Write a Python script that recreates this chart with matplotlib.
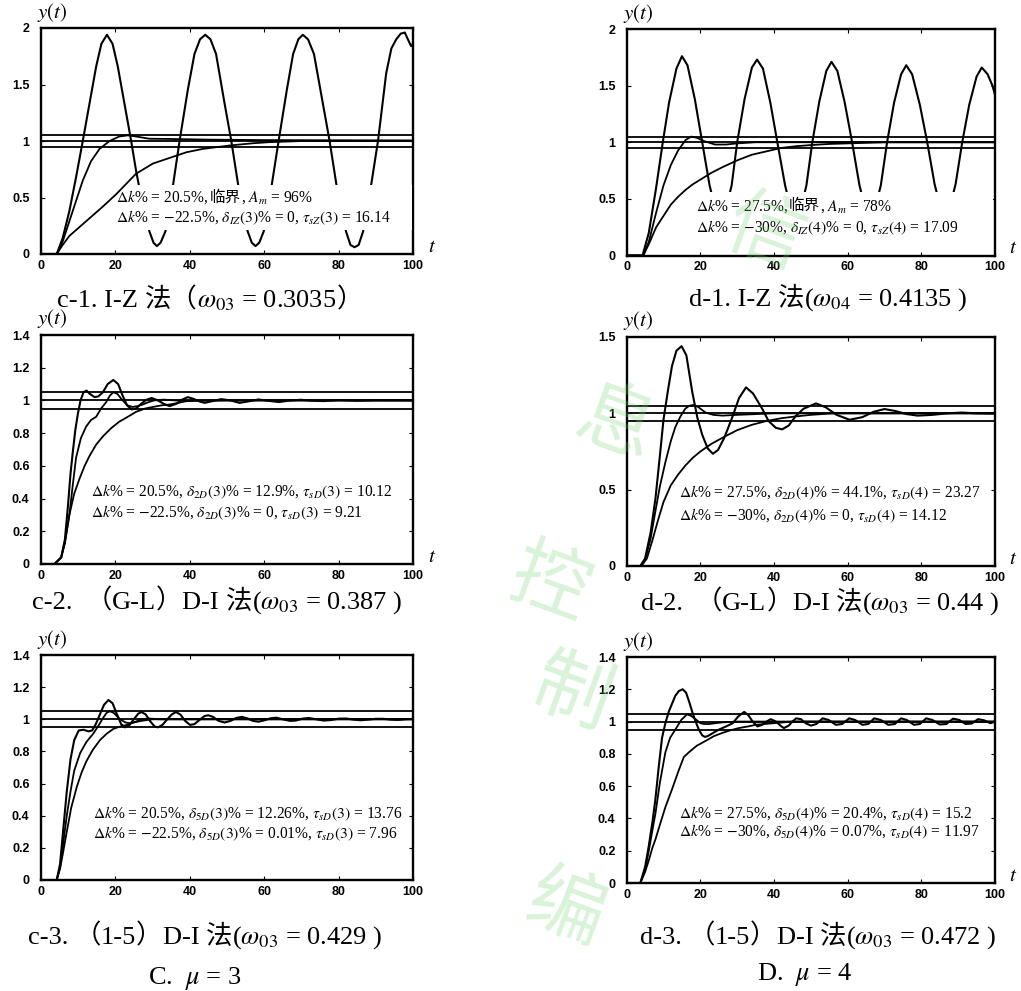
import re
import matplotlib
matplotlib.use('Agg')
import matplotlib.pyplot as plt
from matplotlib.patches import Rectangle
from matplotlib.offsetbox import TextArea, HPacker, AnnotationBbox

plt.rcParams['font.family'] = ['Liberation Serif', 'Noto Sans CJK SC']
plt.rcParams['mathtext.fontset'] = 'stix'

# ---------------- data ----------------
X_TICKS = [0, 20, 40, 60, 80, 100]
Y_TICKS_2 = [0, 0.5, 1, 1.5, 2]
Y_TICKS_14 = [0, 0.2, 0.4, 0.6, 0.8, 1.0, 1.2, 1.4]
Y_TICKS_15 = [0, 0.5, 1, 1.5]
BAND = [0.95, 1.0, 1.05]

# c-1  I-Z
C1_T_A = [0, 4.3, 5.9, 7.7, 9.5, 11.3, 13.1, 14.9, 16.3, 17.8, 19.3, 20.7, 22.5, 24.3, 25.6, 27, 29.2, 30.3, 31.2, 32.2,
          33.5, 35.5, 37.3, 39.5, 41.3, 42.8, 44.2, 45.6, 47.1, 49.4, 51.2, 53, 55.6, 56.7, 57.7, 58.7, 59.9, 62.1,
          63.9, 66.1, 67.8, 69.2, 70.4, 71.8, 73.4, 75.8, 77.6, 79.4, 82.0, 83.2, 84.3, 85.4, 86.6, 88.8, 90.6, 92.8,
          94.2, 95.5, 96.7, 97.8, 98.9, 99.5, 100]
C1_Y_A = [0, 0, 0.14, 0.38, 0.68, 1.0, 1.33, 1.66, 1.86, 1.94, 1.86, 1.66, 1.33, 1.0, 0.74, 0.5, 0.2, 0.1, 0.07, 0.1,
          0.2, 0.6, 1.0, 1.45, 1.77, 1.9, 1.94, 1.9, 1.77, 1.33, 1.0, 0.62, 0.2, 0.1, 0.07, 0.1, 0.2, 0.62,
          1.0, 1.45, 1.77, 1.9, 1.94, 1.9, 1.77, 1.33, 1.0, 0.62, 0.2, 0.08, 0.06, 0.08, 0.2, 0.62, 1.0, 1.6,
          1.82, 1.9, 1.95, 1.96, 1.88, 1.84, 1.86]
C1_T_B = [0, 4.3, 5.9, 7.7, 9.5, 11.3, 13.5, 15.8, 18.5, 21.1, 23.4, 25.6, 29.2, 34.6, 45, 60, 100]
C1_Y_B = [0, 0, 0.11, 0.29, 0.47, 0.65, 0.82, 0.93, 1.0, 1.04, 1.05, 1.04, 1.02, 1.018, 1.012, 1.008, 1.005]
C1_T_C = [0, 4.3, 5.9, 7.7, 12.2, 16.7, 20.3, 25.6, 30.1, 34.6, 39.1, 43.5, 50.7, 57, 61.5, 70.4, 100]
C1_Y_C = [0, 0, 0.08, 0.16, 0.29, 0.42, 0.53, 0.71, 0.8, 0.85, 0.9, 0.93, 0.96, 0.98, 0.99, 1.0, 1.0]

# d-1  I-Z
D1_T_A = [0, 4.3, 6, 8, 9.8, 11.5, 13.5, 15, 16.5, 18.5, 20.5, 22.5, 24.5, 25.5, 26.5, 28.5, 30, 32, 34, 35.4, 37,
          39, 40.9, 43, 45, 45.8, 46.8, 48.8, 50.4, 52.3, 54.2, 55.6, 57.2, 59.2, 61.2, 63.2, 65.2, 66, 67, 69,
          70.7, 72.6, 74.5, 75.9, 77.5, 79.6, 81.6, 83.6, 85.6, 86.4, 87.3, 89.3, 91.1, 93, 95, 96.4, 98, 99.3, 100]
D1_Y_A = [0, 0, 0.2, 0.6, 1.0, 1.35, 1.65, 1.76, 1.68, 1.38, 1.0, 0.62, 0.35, 0.3, 0.35, 0.62, 1.0, 1.38, 1.66, 1.73,
          1.65, 1.35, 1.0, 0.62, 0.35, 0.3, 0.35, 0.62, 1.0, 1.36, 1.63, 1.71, 1.63, 1.35, 1.0, 0.62, 0.36, 0.32,
          0.36, 0.62, 1.0, 1.35, 1.6, 1.68, 1.6, 1.33, 1.0, 0.63, 0.37, 0.33, 0.37, 0.63, 1.0, 1.33, 1.58, 1.66,
          1.6, 1.5, 1.42]
D1_T_B = [0, 4.5, 6, 8, 10, 12, 14, 16, 17.5, 19, 21, 24, 27, 30, 35, 100]
D1_Y_B = [0, 0, 0.12, 0.38, 0.62, 0.8, 0.93, 1.02, 1.05, 1.04, 1.01, 0.98, 0.98, 0.99, 1.0, 1.0]
D1_T_C = [0, 4.5, 6, 8, 10, 12, 14, 16, 18, 20, 23, 26, 30, 34, 38, 42, 46, 50, 55, 60, 70, 100]
D1_Y_C = [0, 0, 0.1, 0.25, 0.35, 0.45, 0.52, 0.58, 0.63, 0.67, 0.73, 0.78, 0.84, 0.89, 0.92, 0.95, 0.965, 0.975,
          0.985, 0.99, 1.0, 1.0]

# c-2  (G-L) D-I
C2_T_A = [0, 3.7, 5.5, 6.5, 7.3, 8.0, 8.6, 9.3, 10, 10.7, 11.5, 12.3, 13.2, 14.5, 15.5, 16.7, 18, 19.5, 20.8, 22,
          23.2, 24.4, 25.6, 27, 28.5, 29.8, 31.5, 33, 34.6, 36.5, 38, 39.5, 41, 42.5, 44, 46, 48.5, 51, 53.4, 56,
          58.5, 61, 64, 67, 70, 73, 76, 80, 85, 90, 100]
C2_Y_A = [0, 0, 0.04, 0.15, 0.35, 0.55, 0.68, 0.82, 0.92, 1.0, 1.05, 1.06, 1.04, 1.02, 1.025, 1.05, 1.1, 1.125, 1.1,
          1.03, 0.97, 0.945, 0.95, 0.98, 1.005, 1.015, 1.0, 0.98, 0.965, 0.98, 1.005, 1.02, 1.01, 0.995, 0.985,
          0.995, 1.008, 1.0, 0.985, 0.995, 1.006, 0.998, 0.99, 1.0, 1.004, 0.998, 0.996, 1.002, 0.998, 1.001, 1.0]
C2_T_B = [0, 3.7, 5.5, 6.5, 7.7, 8.6, 9.5, 10.8, 12.2, 13.5, 14.9, 16.2, 17.6, 18.6, 19.5, 20.6, 22, 23.3, 24.7,
          26, 27.4, 29, 30.5, 33, 36, 40, 50, 100]
C2_Y_B = [0, 0, 0.04, 0.13, 0.3, 0.48, 0.65, 0.77, 0.84, 0.88, 0.9, 0.95, 0.99, 1.03, 1.05, 1.04, 1.0, 0.97, 0.96,
          0.965, 0.975, 0.99, 1.0, 1.005, 1.0, 0.997, 1.0, 1.0]
C2_T_C = [0, 3.7, 5.5, 6.5, 7.7, 9, 10.4, 11.8, 13.1, 14.9, 16.7, 18.9, 21.1, 23.4, 25.6, 28, 30.1, 32.5, 34.6, 37,
          39, 42, 100]
C2_Y_C = [0, 0, 0.04, 0.13, 0.3, 0.43, 0.52, 0.6, 0.66, 0.73, 0.78, 0.83, 0.87, 0.9, 0.93, 0.95, 0.96, 0.97, 0.975,
          0.985, 0.995, 1.0, 1.0]

# d-2  (G-L) D-I
D2_T_A = [0, 3.7, 5, 6.5, 7.8, 9, 10, 11.2, 12.3, 13.5, 14.9, 16.2, 17.8, 19.2, 20.5, 22, 23.4, 24.8, 26.5, 28.6,
          30.5, 32.4, 34.3, 36.8, 38.5, 40.5, 42.2, 44, 45.8, 48, 51.4, 54, 57, 60.5, 64, 67, 70, 73, 76, 79, 83, 87,
          91, 95, 100]
D2_Y_A = [0, 0, 0.05, 0.22, 0.44, 0.72, 0.96, 1.15, 1.31, 1.41, 1.44, 1.38, 1.14, 0.97, 0.86, 0.77, 0.735, 0.76,
          0.84, 0.97, 1.1, 1.17, 1.13, 1.03, 0.95, 0.905, 0.895, 0.92, 0.98, 1.03, 1.065, 1.04, 0.99, 0.958, 0.975,
          1.01, 1.028, 1.015, 0.995, 0.985, 0.99, 1.0, 1.005, 1.0, 0.998]
D2_T_B = [0, 3.7, 5, 6.5, 7.8, 9, 10.5, 12, 13.2, 14.6, 15.9, 17, 18.2, 19.5, 21.4, 23.5, 26, 30, 35, 40, 100]
D2_Y_B = [0, 0, 0.04, 0.18, 0.36, 0.52, 0.68, 0.82, 0.91, 0.98, 1.03, 1.05, 1.055, 1.04, 1.005, 0.99, 0.985, 0.99,
          0.995, 1.0, 1.0]
D2_T_C = [0, 4, 5.5, 7, 8.5, 10, 12, 14, 16, 18, 20, 23, 26, 30, 34, 38, 42, 46, 50, 56, 100]
D2_Y_C = [0, 0, 0.05, 0.17, 0.3, 0.42, 0.53, 0.6, 0.66, 0.71, 0.75, 0.8, 0.84, 0.89, 0.925, 0.95, 0.968, 0.98, 0.99,
          1.0, 1.0]

# c-3  (1-5) D-I
C3_T_A = [0, 4.3, 5.2, 6, 7, 8, 9, 10.2, 11.5, 12.8, 13.8, 14.8, 15.9, 17, 18.2, 19.3, 20.5, 21.6, 22.6, 23.7, 25,
          26.2, 27.1, 28.2, 29.5, 30.6, 31.5, 32.7, 34, 35.2, 36.3, 37.5, 38.8, 40.1, 41.3, 42.6, 44, 45, 46.3, 47.8,
          49.4, 51, 52.5, 54, 55.6, 57, 58.5, 60, 61.7, 63.3, 65, 67, 68.5, 70.3, 72, 74, 76, 78, 80, 82, 84, 86, 88,
          90, 92, 94, 96, 98, 100]
C3_Y_A = [0, 0, 0.1, 0.3, 0.55, 0.75, 0.87, 0.93, 0.935, 0.925, 0.93, 0.97, 1.03, 1.09, 1.12, 1.1, 1.03, 0.97, 0.95,
          0.96, 1.0, 1.035, 1.045, 1.03, 0.985, 0.955, 0.95, 0.965, 1.0, 1.03, 1.045, 1.03, 0.99, 0.965, 0.97, 0.995,
          1.02, 1.025, 1.015, 0.99, 0.98, 0.99, 1.008, 1.015, 1.005, 0.99, 0.985, 0.993, 1.006, 1.01, 1.0, 0.99,
          0.992, 1.004, 1.008, 1.0, 0.992, 0.995, 1.004, 1.005, 0.998, 0.994, 0.998, 1.003, 1.003, 0.998, 0.996,
          1.0, 1.002]
C3_T_B = [0, 4.3, 5.2, 6, 7, 8, 9, 10.6, 12.3, 14.1, 15.5, 16.8, 17.7, 18.6, 19.6, 21.3, 22.8, 24, 25.5, 27, 29, 32,
          40, 100]
C3_Y_B = [0, 0, 0.08, 0.22, 0.4, 0.55, 0.68, 0.79, 0.86, 0.91, 0.96, 1.01, 1.04, 1.05, 1.04, 1.0, 0.98, 0.975,
          0.985, 1.0, 1.005, 1.0, 1.0, 1.0]
C3_T_C = [0, 4.3, 5.2, 6, 7, 8.2, 9.7, 11, 12.3, 14, 15.9, 17.7, 19.5, 21.3, 23.1, 25, 27, 30, 100]
C3_Y_C = [0, 0, 0.07, 0.17, 0.3, 0.45, 0.58, 0.67, 0.74, 0.81, 0.87, 0.91, 0.94, 0.955, 0.965, 0.98, 0.99, 1.0, 1.0]

# d-3  (1-5) D-I
D3_T_A = [0, 3.7, 5, 6, 7, 7.8, 8.7, 9.6, 10.5, 11.4, 12.3, 13.2, 14.2, 15.2, 16.1, 17, 17.8, 18.7, 19.6, 20.5,
          21.2, 22, 23.5, 25, 27, 28.8, 30.2, 31.9, 33, 34.2, 35.5, 36.8, 38, 39.1, 40.5, 42, 42.7, 44, 45, 46, 47.3,
          48.6, 50, 51.5, 53.2, 54.8, 56.8, 58.5, 60.4, 62, 64, 65.6, 67.2, 69, 71, 72.8, 74.5, 76, 78, 79.6, 81.3,
          83, 85, 86.8, 88.6, 90.3, 92, 93.7, 95.4, 97, 98.8, 100]
D3_Y_A = [0, 0, 0.1, 0.23, 0.38, 0.52, 0.72, 0.9, 0.99, 1.06, 1.11, 1.16, 1.19, 1.2, 1.18, 1.12, 1.06, 1.0, 0.95,
          0.915, 0.905, 0.91, 0.93, 0.95, 0.97, 0.99, 1.03, 1.06, 1.04, 1.0, 0.97, 0.98, 1.0, 1.015, 1.0, 0.97, 0.96,
          0.975, 1.0, 1.02, 1.015, 0.99, 0.975, 0.985, 1.02, 1.01, 0.98, 0.985, 1.02, 1.01, 0.98, 0.985, 1.02, 1.01,
          0.98, 0.985, 1.02, 1.01, 0.98, 0.985, 1.02, 1.01, 0.982, 0.985, 1.018, 1.01, 0.985, 0.988, 1.015, 1.008,
          0.99, 1.0]
D3_T_B = [0, 3.7, 5, 6, 7, 7.8, 9, 10.5, 11.8, 13.2, 14.8, 16.4, 17.5, 18.7, 20, 21, 22.5, 24, 26, 30, 100]
D3_Y_B = [0, 0, 0.08, 0.2, 0.33, 0.43, 0.62, 0.81, 0.9, 0.95, 1.01, 1.045, 1.035, 1.015, 0.99, 0.985, 0.985, 0.99,
          0.995, 1.0, 1.0]
D3_T_C = [0, 3.7, 5, 6, 7, 7.8, 9, 10.5, 12.3, 14, 15.5, 16.9, 19, 21.4, 23.7, 26, 28, 30.5, 33, 35, 40, 45, 100]
D3_Y_C = [0, 0, 0.07, 0.14, 0.22, 0.27, 0.36, 0.47, 0.58, 0.69, 0.78, 0.81, 0.85, 0.88, 0.91, 0.93, 0.945, 0.96,
          0.97, 0.98, 0.99, 1.0, 1.0]

NOTE_C1 = [r"$\Delta k$% = 20.5%, 临界, $A_m$ = 96%",
           r"$\Delta k$% = $-$22.5%, $\delta_{IZ}(3)$% = 0, $\tau_{sZ}(3)$ = 16.14"]
NOTE_D1 = [r"$\Delta k$% = 27.5%, 临界, $A_m$ = 78%",
           r"$\Delta k$% = $-$30%, $\delta_{IZ}(4)$% = 0, $\tau_{sZ}(4)$ = 17.09"]
NOTE_C2 = [r"$\Delta k$% = 20.5%, $\delta_{2D}(3)$% = 12.9%, $\tau_{sD}(3)$ = 10.12",
           r"$\Delta k$% = $-$22.5%, $\delta_{2D}(3)$% = 0, $\tau_{sD}(3)$ = 9.21"]
NOTE_D2 = [r"$\Delta k$% = 27.5%, $\delta_{2D}(4)$% = 44.1%, $\tau_{sD}(4)$ = 23.27",
           r"$\Delta k$% = $-$30%, $\delta_{2D}(4)$% = 0, $\tau_{sD}(4)$ = 14.12"]
NOTE_C3 = [r"$\Delta k$% = 20.5%, $\delta_{5D}(3)$% = 12.26%, $\tau_{sD}(3)$ = 13.76",
           r"$\Delta k$% = $-$22.5%, $\delta_{5D}(3)$% = 0.01%, $\tau_{sD}(3)$ = 7.96"]
NOTE_D3 = [r"$\Delta k$% = 27.5%, $\delta_{5D}(4)$% = 20.4%, $\tau_{sD}(4)$ = 15.2",
           r"$\Delta k$% = $-$30%, $\delta_{5D}(4)$% = 0.07%, $\tau_{sD}(4)$ = 11.97"]

CAPTIONS = [r"c-1. I-Z 法（$\omega_{03}$ = 0.3035）",
            r"d-1. I-Z 法($\omega_{04}$ = 0.4135 )",
            r"c-2.  （G-L）D-I 法($\omega_{03}$ = 0.387 )",
            r"d-2.  （G-L）D-I 法($\omega_{03}$ = 0.44 )",
            r"c-3. （1-5）D-I 法($\omega_{03}$ = 0.429 )",
            r"d-3. （1-5）D-I 法($\omega_{03}$ = 0.472 )",
            r"C.  $\mu$ = 3",
            r"D.  $\mu$ = 4"]

# ---------------- helpers ----------------
W, H = 1021, 991
CJK_RE = re.compile(r'([\u3000-\u303f\u4e00-\u9fff\uff00-\uffef]+)')


def rich_box(s, size):
    """Pack runs of CJK (Noto Sans CJK) and Latin/math (serif + STIX) side by side."""
    children = []
    for part in CJK_RE.split(s):
        if not part:
            continue
        if CJK_RE.fullmatch(part):
            props = dict(fontsize=size, family=['Noto Sans CJK SC'])
        else:
            props = dict(fontsize=size, family=['Liberation Serif'])
        children.append(TextArea(part, textprops=props))
    return HPacker(children=children, align='baseline', pad=0, sep=0)


def place(box, xy, coords, align, z=6, target=None):
    ab = AnnotationBbox(box, xy, xycoords=coords, box_alignment=align, frameon=False, pad=0,
                        annotation_clip=False)
    ab.set_zorder(z)
    target.add_artist(ab)


def frac_rect(l, r, t, b):
    return [l / W, 1 - b / H, (r - l) / W, (b - t) / H]


fig = plt.figure(figsize=(W / 100, H / 100), dpi=100)

panels = [
    dict(rect=frac_rect(40.7, 413, 28, 254), ymax=2, yt=Y_TICKS_2,
         osc=(C1_T_A, C1_Y_A), others=[(C1_T_B, C1_Y_B), (C1_T_C, C1_Y_C)],
         note=NOTE_C1, npos=(20.3, 0.50, 0.32), mask=(19.8, 0.21, 80, 0.40), tl=True),
    dict(rect=frac_rect(626.7, 995, 29, 255.5), ymax=2, yt=Y_TICKS_2,
         osc=(D1_T_A, D1_Y_A), others=[(D1_T_B, D1_Y_B), (D1_T_C, D1_Y_C)],
         note=NOTE_D1, npos=(18.7, 0.44, 0.245), mask=(18.0, 0.13, 81.5, 0.43), tl=True),
    dict(rect=frac_rect(40.7, 413, 335, 564), ymax=1.4, yt=Y_TICKS_14,
         osc=(C2_T_A, C2_Y_A), others=[(C2_T_B, C2_Y_B), (C2_T_C, C2_Y_C)],
         note=NOTE_C2, npos=(13.5, 0.44, 0.315), mask=None, tl=True),
    dict(rect=frac_rect(626.7, 995, 337, 566), ymax=1.5, yt=Y_TICKS_15,
         osc=(D2_T_A, D2_Y_A), others=[(D2_T_B, D2_Y_B), (D2_T_C, D2_Y_C)],
         note=NOTE_D2, npos=(14.3, 0.48, 0.33), mask=None, tl=True),
    dict(rect=frac_rect(40.7, 413, 655, 880), ymax=1.4, yt=Y_TICKS_14,
         osc=(C3_T_A, C3_Y_A), others=[(C3_T_B, C3_Y_B), (C3_T_C, C3_Y_C)],
         note=NOTE_C3, npos=(14.1, 0.41, 0.29), mask=None, tl=False),
    dict(rect=frac_rect(626.7, 995, 657, 883), ymax=1.4, yt=Y_TICKS_14,
         osc=(D3_T_A, D3_Y_A), others=[(D3_T_B, D3_Y_B), (D3_T_C, D3_Y_C)],
         note=NOTE_D3, npos=(14.2, 0.43, 0.315), mask=None, tl=True),
]

for p in panels:
    ax = fig.add_axes(p['rect'])
    ax.set_xlim(0, 100)
    ax.set_ylim(0, p['ymax'])
    ax.set_xticks(X_TICKS)
    ax.set_xticklabels([str(v) for v in X_TICKS], fontfamily='Liberation Sans', fontweight='bold', fontsize=9)
    ax.set_yticks(p['yt'])
    ax.set_yticklabels(['%g' % v for v in p['yt']], fontfamily='Liberation Sans', fontweight='bold', fontsize=9)
    ax.tick_params(axis='both', direction='in', top=True, right=True, length=3, width=0.8)
    ax.tick_params(axis='y', pad=8)
    ax.tick_params(axis='x', pad=4)
    for s in ax.spines.values():
        s.set_linewidth(1.7)
    for b in BAND:
        ax.axhline(b, color='black', lw=1.3, zorder=2)
    ax.plot(p['osc'][0], p['osc'][1], color='black', lw=1.5, zorder=2)
    if p['mask'] is not None:
        mx, my, mw, mh = p['mask']
        ax.add_patch(Rectangle((mx, my), mw, mh, facecolor='white', edgecolor='none', zorder=3))
    for (tt, yy) in p['others']:
        ax.plot(tt, yy, color='black', lw=1.3, zorder=4)
    nx, ny1, ny2 = p['npos']
    place(rich_box(p['note'][0], 11.2), (nx, ny1), 'data', (0, 0.5), target=ax)
    place(rich_box(p['note'][1], 11.2), (nx, ny2), 'data', (0, 0.5), target=ax)
    ax.text(-0.01, 1.07, r'$y(t)$', transform=ax.transAxes, fontsize=15, ha='left', va='center')
    if p['tl']:
        ax.text(1.05, 0.03, r'$t$', transform=ax.transAxes, fontsize=15, ha='center', va='center')

# captions
cap_pos = [(210, 300), (828, 299), (217, 602), (820, 603), (205, 937), (818, 937), (195, 978), (805, 975)]
for txt, (cx, cy) in zip(CAPTIONS, cap_pos):
    place(rich_box(txt, 19), (cx / W, 1 - cy / H), 'figure fraction', (0.5, 0.5), target=fig)

# faint watermark of the source journal
for ch, (wx, wy) in zip(['信', '息', '控', '制', '编'],
                        [(765, 235), (615, 425), (550, 585), (572, 695), (565, 910)]):
    fig.text(wx / W, 1 - wy / H, ch, fontsize=56, color='#77d477', alpha=0.28, rotation=-20,
             family=['Noto Sans CJK SC'], ha='center', va='center', zorder=10)

fig.savefig('out.png', dpi=100)
